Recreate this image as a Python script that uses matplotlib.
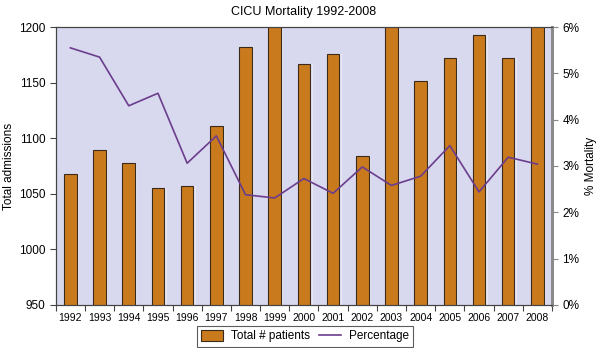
import numpy as np
import matplotlib.pyplot as plt
from matplotlib.ticker import FixedLocator, FuncFormatter

plt.rcParams["font.family"] = ["Liberation Sans", "DejaVu Sans"]

years = ["1992", "1993", "1994", "1995", "1996", "1997", "1998", "1999", "2000",
         "2001", "2002", "2003", "2004", "2005", "2006", "2007", "2008"]
# Total admissions per year (bars)
admissions = [1068, 1089, 1078, 1055, 1057, 1111, 1182, 1215, 1167,
              1176, 1084, 1215, 1151, 1172, 1193, 1172, 1215]
# Mortality percentage per year (line)
mortality = [5.55, 5.35, 4.30, 4.57, 3.06, 3.65, 2.38, 2.31, 2.73,
             2.41, 2.98, 2.58, 2.78, 3.44, 2.44, 3.19, 3.04]

bar_color = "#c97a1d"
line_color = "#6b3d8c"
bg_color = "#d8d8ee"

fig = plt.figure(figsize=(6, 3.48), dpi=100)
ax = fig.add_axes([0.093, 0.1236, 0.827, 0.7988])
ax.set_facecolor(bg_color)

x = np.arange(len(years))
# light sheen just right of each bar
ax.bar(x + 0.08, admissions, width=0.43, bottom=0, color="#e6e6f4",
       edgecolor="none", zorder=1)
ax.bar(x, admissions, width=0.43, color=bar_color, edgecolor="#3a2a1a",
       linewidth=0.8, zorder=2, label="Total # patients")
ax.set_ylim(950, 1200)
ax.set_xlim(-0.5, len(years) - 0.5)
ax.set_yticks([950, 1000, 1050, 1100, 1150, 1200])
ax.set_ylabel("Total admissions", fontsize=8.5, labelpad=3)

ax.set_xticks(x)
ax.set_xticklabels(years)
ax.xaxis.set_minor_locator(FixedLocator(np.arange(-0.5, len(years), 1.0)))
ax.tick_params(axis="x", which="major", length=0, labelsize=7.5, pad=6)
ax.tick_params(axis="x", which="minor", length=4, color="#444444", width=0.8)
ax.tick_params(axis="y", labelsize=8.5, length=4, color="#444444", width=0.8)

ax2 = ax.twinx()
ax2.plot(x, mortality, color=line_color, linewidth=1.2, zorder=3,
         label="Percentage")
ax2.set_ylim(0, 6)
ax2.set_yticks(range(0, 7))
ax2.yaxis.set_major_formatter(FuncFormatter(lambda v, p: f"{int(v)}%"))
ax2.tick_params(axis="y", labelsize=8.5, length=4, color="#888888", width=0.8)
ax2.set_ylabel("% Mortality", fontsize=8.5)

for a in (ax, ax2):
    for side in ("left", "bottom", "top"):
        a.spines[side].set_color("#444444")
        a.spines[side].set_linewidth(0.8)
    a.spines["right"].set_color("#8a8a8a")
    a.spines["right"].set_linewidth(2)

ax.set_title("CICU Mortality 1992-2008", fontsize=9, pad=9)

h1, l1 = ax.get_legend_handles_labels()
h2, l2 = ax2.get_legend_handles_labels()
leg = fig.legend(h1 + h2, l1 + l2, loc="lower center", ncol=2,
                 bbox_to_anchor=(0.508, -0.006), fontsize=8.5, frameon=True,
                 fancybox=False, edgecolor="#333333", handlelength=1.9,
                 handleheight=1.1, columnspacing=0.8, handletextpad=0.6,
                 borderpad=0.35, borderaxespad=0.3)
leg.get_frame().set_linewidth(0.8)

fig.savefig("out.png", dpi=100)
